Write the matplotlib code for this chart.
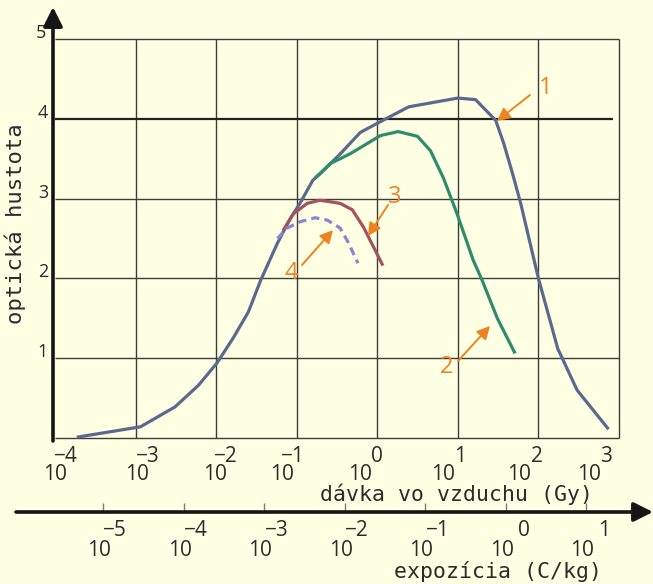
import numpy as np
import matplotlib
matplotlib.use("Agg")
import matplotlib.pyplot as plt

# ---------------- data ----------------
# x values: log10 of dose in air (Gy); y values: optical density
curve1_logdose = [-3.73, -2.94, -2.51, -2.22, -1.99, -1.79, -1.60, -1.45, -1.24, -1.08,
                  -0.96, -0.80, -0.71, -0.46, -0.21, 0.05, 0.39, 1.00, 1.22, 1.47,
                  1.57, 1.68, 1.78, 2.00, 2.24, 2.48, 2.87]
curve1_od = [0.01, 0.14, 0.39, 0.66, 0.94, 1.25, 1.58, 1.97, 2.44, 2.75,
             2.94, 3.23, 3.31, 3.56, 3.83, 3.97, 4.15, 4.26, 4.24, 3.98,
             3.69, 3.31, 2.94, 2.00, 1.12, 0.60, 0.11]

curve2_logdose = [-0.77, -0.58, -0.34, 0.04, 0.26, 0.50, 0.66, 0.82, 0.99, 1.19, 1.30, 1.49, 1.71]
curve2_od = [3.26, 3.44, 3.56, 3.79, 3.84, 3.78, 3.60, 3.26, 2.81, 2.23, 1.98, 1.50, 1.06]

curve3_logdose = [-1.17, -1.04, -0.87, -0.71, -0.46, -0.31, -0.17, 0.07]
curve3_od = [2.60, 2.81, 2.94, 2.98, 2.94, 2.86, 2.64, 2.16]

curve4_logdose = [-1.24, -1.12, -0.96, -0.77, -0.62, -0.46, -0.36, -0.24]
curve4_od = [2.50, 2.63, 2.71, 2.76, 2.73, 2.63, 2.45, 2.19]

dose_exponents = [-4, -3, -2, -1, 0, 1, 2, 3]
od_ticks = [1, 2, 3, 4, 5]
exposure_exponents = [-5, -4, -3, -2, -1, 0, 1]
GY_PER_C_KG = 39.5          # scale relation between the two axes as drawn

curve_labels = ["1", "2", "3", "4"]

# ---------------- styling / layout ----------------
BG = "#ffffe4"
GRID = "#3c3c3c"
AX = "#151515"
TXT = "#2b2b2b"
ORANGE = "#f0831f"
C1, C2, C3, C4 = "#5a6a8e", "#2e8c6c", "#a4525f", "#8b84d4"

W, H = 653, 584
PX_DEC = 80.57      # pixels per decade
PX_X0 = 55          # pixel column of 1e-4 Gy
PX_UNIT = 79.8      # pixels per optical density unit
PX_Y0 = 438         # pixel row of OD 0


def xd(px):
    return 10 ** (-4 + (px - PX_X0) / PX_DEC)


def yd(py):
    return (PX_Y0 - py) / PX_UNIT


fig = plt.figure(figsize=(W / 100, H / 100), dpi=100, facecolor=BG)
ax = fig.add_axes([0, 0, 1, 1])
ax.set_facecolor(BG)
ax.set_xscale("log")
ax.set_xlim(xd(0), xd(W))
ax.set_ylim(yd(H), yd(0))
ax.set_axis_off()

num_font = "Open Sans"
mono_font = "DejaVu Sans Mono"
AXIS_ARROW = "-|>,head_length=0.58,head_width=0.29"


def label(x, y, s, dx=0, dy=0, **kw):
    ax.annotate(s, xy=(x, y), xytext=(dx * 0.72, -dy * 0.72),
                textcoords="offset points", **kw)


dose_ticks = [10.0 ** e for e in dose_exponents]
xmin, xmax = dose_ticks[0], dose_ticks[-1]
ymax = od_ticks[-1]

# grid
ax.vlines(dose_ticks[1:], 0, ymax, color=GRID, lw=1.0, zorder=1)
ax.hlines([0] + [t for t in od_ticks if t != 4], xmin, xmax, color=GRID, lw=1.0, zorder=1)
ax.hlines([4], xmin, xd(613), color="#222222", lw=1.6, zorder=1)

# y axis with arrow
ax.annotate("", xy=(xd(53), yd(7)), xytext=(xd(53), yd(441)),
            arrowprops=dict(arrowstyle=AXIS_ARROW, mutation_scale=20, lw=2.6, color=AX,
                            shrinkA=0, shrinkB=0), zorder=5)

# y tick labels
for t in od_ticks:
    label(xd(41 if t == ymax else 43), t, str(t), dy=-6, ha="center", va="center",
          fontsize=13, family=num_font, color=TXT, zorder=6)

# dose tick labels
dose_nudge = [0, 1, -1, -15, -17, -15, -19, -30]
for e, t, n in zip(dose_exponents, dose_ticks, dose_nudge):
    label(t, 0, "10", dx=n, dy=36, ha="center", va="center",
          fontsize=15, family=num_font, color=TXT)
    label(t, 0, str(e).replace("-", "\u2212"), dx=n + 23, dy=18, ha="right", va="center",
          fontsize=15, family=num_font, color=TXT)

ax.text(xd(456), yd(494), "dávka vo vzduchu (Gy)", ha="center", va="center",
        fontsize=15.5, family=mono_font, color=TXT)

# exposure axis
ax.annotate("", xy=(xd(W), yd(512)), xytext=(xd(16), yd(512)),
            arrowprops=dict(arrowstyle=AXIS_ARROW, mutation_scale=20, lw=2.6, color=AX,
                            shrinkA=0, shrinkB=0), zorder=5)
exp_ticks = [10.0 ** e * GY_PER_C_KG for e in exposure_exponents]
ax.vlines(exp_ticks, yd(512), yd(503), color="#7a7a7a", lw=1.0)
for e, t in zip(exposure_exponents, exp_ticks):
    label(t, yd(512), "10", dx=-4, dy=38, ha="center", va="center",
          fontsize=15, family=num_font, color=TXT)
    label(t, yd(512), str(e).replace("-", "\u2212"), dx=24, dy=18, ha="right", va="center",
          fontsize=15, family=num_font, color=TXT)

ax.text(xd(498), yd(572), "expozícia (C/kg)", ha="center", va="center",
        fontsize=15.5, family=mono_font, color=TXT)

ax.text(xd(15), yd(224), "optická hustota", rotation=90, ha="center", va="center",
        fontsize=16, family=mono_font, color=TXT)

# curves
lw = 2.3
ax.plot(10.0 ** np.array(curve1_logdose), curve1_od, color=C1, lw=lw, zorder=3,
        solid_joinstyle="round", solid_capstyle="butt")
ax.plot(10.0 ** np.array(curve2_logdose), curve2_od, color=C2, lw=lw, zorder=4,
        solid_joinstyle="round", solid_capstyle="butt")
ax.plot(10.0 ** np.array(curve3_logdose), curve3_od, color=C3, lw=lw, zorder=4,
        solid_joinstyle="round", solid_capstyle="butt")
ax.plot(10.0 ** np.array(curve4_logdose), curve4_od, color=C4, lw=lw, zorder=4,
        dashes=(2.6, 1.6))

# curve annotations: text position, arrow tail, arrow head (pixels)
annot_layout = [((546, 88), (530, 95), (497, 121)),
                ((447, 367), (458, 361), (490, 326)),
                ((395, 197), (388, 205), (368, 236)),
                ((291, 273), (302, 265), (333, 230))]
for s, (tp, tail, head) in zip(curve_labels, annot_layout):
    ax.text(xd(tp[0]), yd(tp[1]), s, ha="center", va="center", fontsize=17,
            family=num_font, color=ORANGE, zorder=6)
    ax.annotate("", xy=(xd(head[0]), yd(head[1])), xytext=(xd(tail[0]), yd(tail[1])),
                arrowprops=dict(arrowstyle="-|>,head_length=0.55,head_width=0.28",
                                mutation_scale=14, lw=1.4, color=ORANGE,
                                shrinkA=0, shrinkB=0), zorder=6)

fig.savefig("out.png", dpi=100, facecolor=BG)
